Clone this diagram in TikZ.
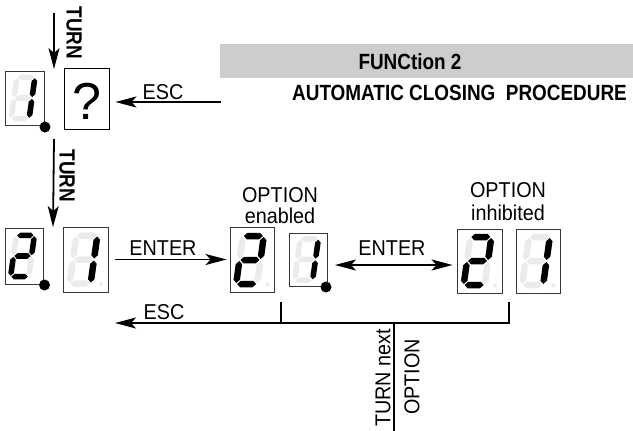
\documentclass[tikz,border=0pt]{standalone}
\usepackage{fontspec}
\setmainfont{Liberation Sans}
\newfontfamily\hdfont[FakeStretch=0.86]{Liberation Sans}
\newfontfamily\rgfont[FakeStretch=0.92]{Liberation Sans}
\usetikzlibrary{arrows.meta,calc}
\definecolor{segoff}{HTML}{EBEBEB}
\definecolor{boxedge}{HTML}{383838}
\definecolor{bargray}{HTML}{CDCDCD}
\newcommand\segh[2]{\fill[#1] (-9.5,#2) -- (-6.25,#2+3.25) -- (6.25,#2+3.25) -- (9.5,#2) -- (6.25,#2-3.25) -- (-6.25,#2-3.25) -- cycle;}
\newcommand\segv[4]{\fill[#1] (#2,#3-1) -- (#2+3.25,#3-4.25) -- (#2+3.25,#4+4.25) -- (#2,#4+1) -- (#2-3.25,#4+4.25) -- (#2-3.25,#3-4.25) -- cycle;}
\tikzset{
  sA/.style={fill=segoff}, sB/.style={fill=segoff}, sC/.style={fill=segoff},
  sD/.style={fill=segoff}, sE/.style={fill=segoff}, sF/.style={fill=segoff},
  sG/.style={fill=segoff}, sP/.style={fill=segoff},
  segon/.style={fill=black},
  pics/seven/.style={code={
    \begin{scope}[xslant=0.14,yscale=-1]
      \segh{sA}{24}\segh{sG}{0}\segh{sD}{-24}
      \segv{sB}{10.5}{24}{0}\segv{sC}{10.5}{0}{-24}
      \segv{sF}{-10.5}{24}{0}\segv{sE}{-10.5}{0}{-24}
      \fill[sP] (21,-24.5) circle (2);
    \end{scope}}},
  one/.style={sB/.style=segon, sC/.style=segon},
  two/.style={sA/.style=segon, sB/.style=segon, sG/.style=segon, sE/.style=segon, sD/.style=segon},
  dotted/.style={scale=0.86, sP/.style={fill=none}},
  dbox/.style={draw=boxedge, line width=0.9pt, inner sep=0},
  bigdot/.style={circle, fill=black, inner sep=0, minimum size=11pt},
  lab/.style={font=\fontsize{21.5}{24}\rgfont, inner sep=0},
  blab/.style={font=\fontsize{22}{25}\hdfont\bfseries, inner sep=0},
  arr/.style={line width=1.8pt, -{Stealth[length=21pt,width=11pt,inset=5pt]}},
  arrb/.style={line width=1.8pt, {Stealth[length=21pt,width=11pt,inset=5pt]}-{Stealth[length=21pt,width=11pt,inset=5pt]}},
  ln/.style={line width=1.8pt},
}
\begin{document}
\begin{tikzpicture}[x=1pt,y=-1pt]
\useasboundingbox (0,0) rectangle (633,431);
% header bar
\node[fill=bargray, anchor=north west, minimum width=413pt, minimum height=34pt, inner sep=0] (bar) at (220,44) {};
\node[blab] (fn) at (410,62) {FUNCtion 2};
\node[blab, anchor=east] (acp) at (627,93) {AUTOMATIC CLOSING~~PROCEDURE};
% row 1
\node[dbox, minimum width=39pt, minimum height=54pt] (d1) at (24.5,98) {};
\pic[one, dotted] at ([xshift=-1.5pt]d1.center) {seven};
\node[bigdot] (dot1) at (45,127) {};
\node[draw=black, line width=0.9pt, inner sep=0, minimum width=45pt, minimum height=61pt] (q) at (86.5,98.5) {};
\node[font=\fontsize{52}{54}\selectfont, inner sep=0] (qm) at (86.5,101) {?};
% row 2
\node[dbox, minimum width=38pt, minimum height=56pt] (r2a) at (24,256) {};
\pic[two, dotted] at ([xshift=-1.5pt]r2a.center) {seven};
\node[bigdot] (dot2) at (44.5,285) {};
\node[dbox, minimum width=45pt, minimum height=65pt] (r2b) at (85.5,259.5) {};
\pic[one] at ([xshift=-2pt]r2b.center) {seven};
\node[dbox, minimum width=44pt, minimum height=65pt] (e2) at (252,260) {};
\pic[two] at ([xshift=-2pt]e2.center) {seven};
\node[dbox, minimum width=38pt, minimum height=53pt] (e1d) at (308,259.5) {};
\pic[one, dotted] at ([xshift=-1.5pt]e1d.center) {seven};
\node[bigdot] (dot3) at (326,287) {};
\node[dbox, minimum width=45pt, minimum height=64pt] (i2) at (479.5,261) {};
\pic[two] at ([xshift=-2pt]i2.center) {seven};
\node[dbox, minimum width=44pt, minimum height=64pt] (i1) at (538,261) {};
\pic[one] at ([xshift=-2pt]i1.center) {seven};
% labels
\node[blab, rotate=-90] (turn1) at (74,33) {TURN};
\node[blab, rotate=-90] (turn2) at (67,176) {TURN};
\node[lab] (esc1) at (163,92) {ESC};
\node[lab] (ent1) at (163,248) {ENTER};
\node[lab] (ent2) at (392,248) {ENTER};
\node[lab] (opt1) at (280,195) {OPTION};
\node[lab] (enb) at (280,216) {enabled};
\node[lab] (opt2) at (508,190) {OPTION};
\node[lab] (inh) at (508,213) {inhibited};
\node[lab] (esc2) at (164,312) {ESC};
\node[lab, rotate=90] (tnext) at (383,378) {TURN next};
\node[lab, rotate=90] (topt) at (412,377) {OPTION};
% connectors
\coordinate (t1s) at (54,13);
\draw[arr] (t1s) -- ($(d1.north east)!.5!(q.north west)$);
\coordinate (t2s) at (54,139);
\draw[arr] (t2s) -- ($(r2a.north east)!.5!(r2b.north west)$);
\coordinate (escs) at (221,102);
\draw[arr, shorten >=6pt] (escs) -- (escs -| q.east);
\draw[arr, shorten <=7pt, shorten >=3pt] (r2b.east) -- (r2b.east -| e2.west);
\coordinate (dA) at (335,265);
\draw[arrb, shorten >=4pt] (dA) -- (dA -| i2.west);
\coordinate (bl) at (281,302);
\coordinate (bj) at (281,323);
\coordinate (br) at (509,302);
\coordinate (bk) at (509,323);
\coordinate (escE) at (115,323);
\coordinate (dj) at (394,323);
\coordinate (dn) at (394,431);
\draw[ln] (bl) -- (bj);
\draw[arr] (br) -- (bk) -- (escE);
\draw[ln] (dj) -- (dn);
\end{tikzpicture}
\end{document}
